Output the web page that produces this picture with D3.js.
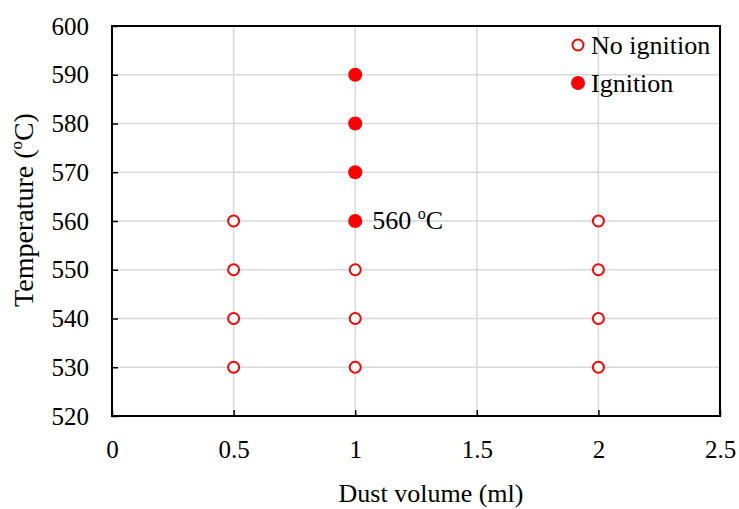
<!DOCTYPE html>
<html>
<head>
<meta charset="utf-8">
<script src="https://cdn.jsdelivr.net/npm/d3@7"></script>
<style>
  body { margin: 0; background: #fff; }
</style>
</head>
<body>
<svg id="chart"></svg>
<script>
// data
const noIgnitionX = [0.5, 0.5, 0.5, 0.5, 1, 1, 1, 2, 2, 2, 2];
const noIgnitionY = [530, 540, 550, 560, 530, 540, 550, 530, 540, 550, 560];
const ignitionX = [1, 1, 1, 1];
const ignitionY = [560, 570, 580, 590];
const xTicks = [0, 0.5, 1, 1.5, 2, 2.5];
const yTicks = [520, 530, 540, 550, 560, 570, 580, 590, 600];

const width = 739;
const height = 509;
const margin = { top: 26, right: 19, bottom: 93, left: 112 };
const innerW = width - margin.left - margin.right;
const innerH = height - margin.top - margin.bottom;
const red = '#ff0000';
const ff = 'Liberation Serif, Times New Roman, serif';

const svg = d3.select('#chart')
  .attr('width', width)
  .attr('height', height)
  .attr('font-family', ff);

const g = svg.append('g')
  .attr('transform', `translate(${margin.left},${margin.top})`);

const x = d3.scaleLinear().domain([0, 2.5]).range([0, innerW]);
const y = d3.scaleLinear().domain([520, 600]).range([innerH, 0]);

// gridlines
g.append('g')
  .selectAll('line')
  .data(xTicks.slice(1, -1))
  .enter().append('line')
  .attr('x1', d => x(d)).attr('x2', d => x(d))
  .attr('y1', 0).attr('y2', innerH)
  .attr('stroke', '#d9d9d9').attr('stroke-width', 1.5);

g.append('g')
  .selectAll('line')
  .data(yTicks.slice(1, -1))
  .enter().append('line')
  .attr('x1', 0).attr('x2', innerW)
  .attr('y1', d => y(d)).attr('y2', d => y(d))
  .attr('stroke', '#d9d9d9').attr('stroke-width', 1.5);

// axes with inward ticks
const xAxis = g.append('g')
  .attr('transform', `translate(0,${innerH})`)
  .call(d3.axisBottom(x).tickValues(xTicks).tickSize(-6).tickPadding(24)
    .tickFormat(d => String(d)))
  .attr('font-family', ff);
xAxis.select('.domain').remove();
xAxis.selectAll('line').attr('stroke', '#000').attr('stroke-width', 1.5);
xAxis.selectAll('text').attr('font-size', '25px').attr('dy', '0.71em');

const yAxis = g.append('g')
  .call(d3.axisLeft(y).tickValues(yTicks).tickSize(-6).tickPadding(23))
  .attr('font-family', ff);
yAxis.select('.domain').remove();
yAxis.selectAll('line').attr('stroke', '#000').attr('stroke-width', 1.5);
yAxis.selectAll('text').attr('font-size', '25px');

// frame
g.append('rect')
  .attr('x', 0).attr('y', 0)
  .attr('width', innerW).attr('height', innerH)
  .attr('fill', 'none')
  .attr('stroke', '#000')
  .attr('stroke-width', 2);

// points
g.append('g')
  .selectAll('circle')
  .data(noIgnitionX.map((d, i) => [d, noIgnitionY[i]]))
  .enter().append('circle')
  .attr('cx', d => x(d[0]))
  .attr('cy', d => y(d[1]))
  .attr('r', 5.5)
  .attr('fill', '#fff')
  .attr('stroke', red)
  .attr('stroke-width', 2);

g.append('g')
  .selectAll('circle')
  .data(ignitionX.map((d, i) => [d, ignitionY[i]]))
  .enter().append('circle')
  .attr('cx', d => x(d[0]))
  .attr('cy', d => y(d[1]))
  .attr('r', 7)
  .attr('fill', red);

// annotation
const ann = g.append('text')
  .attr('x', x(1) + 17)
  .attr('y', y(560) + 8)
  .attr('font-size', '26px');
ann.append('tspan').text('560 ');
ann.append('tspan').attr('font-size', '16px').attr('dy', '-10').text('o');
ann.append('tspan').attr('dy', '10').text('C');

// legend
const legend = g.append('g').attr('transform', `translate(${innerW - 142},0)`);
legend.append('circle')
  .attr('cx', 0).attr('cy', 19).attr('r', 5.5)
  .attr('fill', '#fff').attr('stroke', red).attr('stroke-width', 2);
legend.append('text')
  .attr('x', 13).attr('y', 28).attr('font-size', '26px').text('No ignition');
legend.append('circle')
  .attr('cx', 0).attr('cy', 57).attr('r', 7).attr('fill', red);
legend.append('text')
  .attr('x', 13).attr('y', 66).attr('font-size', '26px').text('Ignition');

// axis titles
svg.append('text')
  .attr('x', 431)
  .attr('y', 502)
  .attr('text-anchor', 'middle')
  .attr('font-size', '26px')
  .text('Dust volume (ml)');

const yt = svg.append('text')
  .attr('transform', `translate(33,210) rotate(-90)`)
  .attr('text-anchor', 'middle')
  .attr('font-size', '28px');
yt.append('tspan').text('Temperature (');
yt.append('tspan').attr('font-size', '17px').attr('dy', '-11').text('o');
yt.append('tspan').attr('dy', '11').text('C)');
</script>
</body>
</html>
